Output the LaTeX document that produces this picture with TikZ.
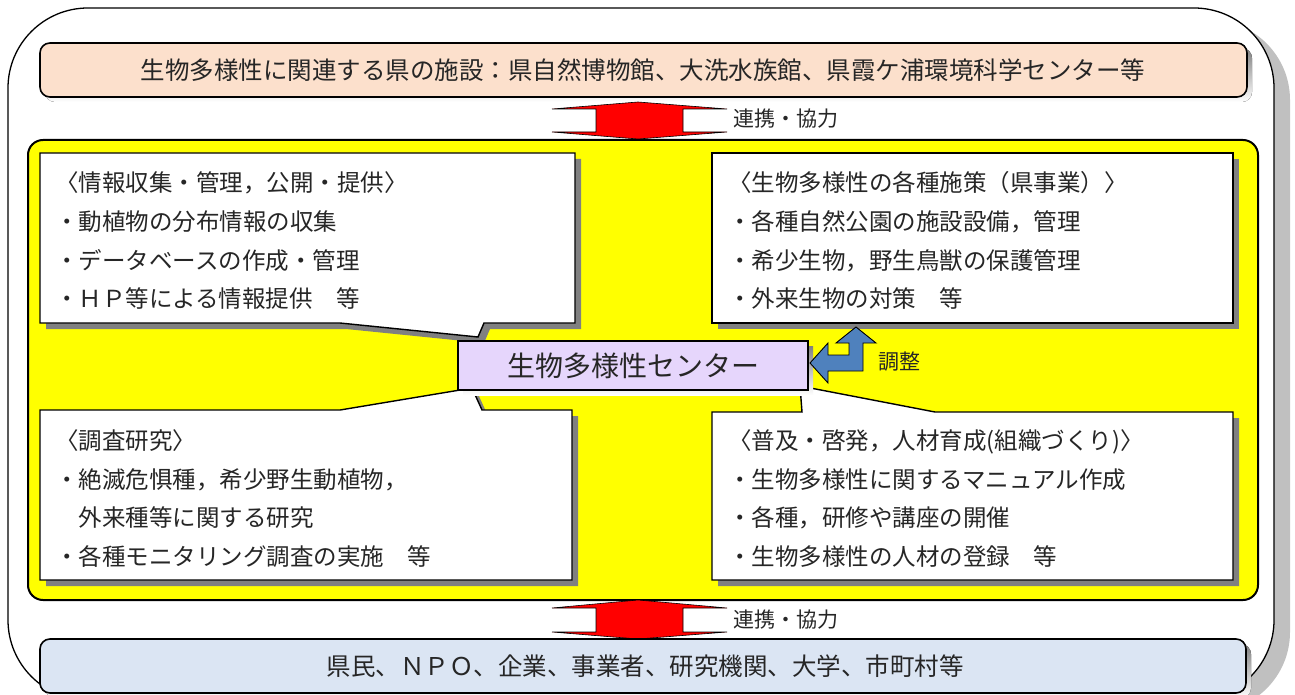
\documentclass[tikz,border=0pt]{standalone}
\usepackage{fontspec}
\setmainfont{Noto Sans CJK JP}
\definecolor{peach}{RGB}{252,224,204}
\definecolor{paleblue}{RGB}{219,229,243}
\definecolor{lavender}{RGB}{230,214,252}
\definecolor{steel}{RGB}{79,129,189}
\definecolor{shade}{RGB}{128,128,128}
\definecolor{lightshade}{RGB}{192,192,192}
\definecolor{pureyellow}{RGB}{255,255,0}
\begin{document}
\begin{tikzpicture}[x=1pt,y=-1pt,
  txt/.style={inner sep=0pt,anchor=base west,text=black!85,font=\fontsize{23.5}{28}\selectfont},
  bigtxt/.style={inner sep=0pt,text=black!85,font=\fontsize{24.5}{28}\selectfont},
  lbl/.style={inner sep=0pt,anchor=west,text=black!85,font=\fontsize{21}{24}\selectfont},
  callout/.style={fill=white,draw=black,line width=1.4pt,line join=miter},
  calloutshadow/.style={fill=shade,draw=none},
  redarrow/.style={fill=red,draw=black,line width=0.6pt},
  bluearrow/.style={fill=steel,draw=black,line width=0.9pt,line join=miter}]
\useasboundingbox (0,0) rectangle (1295,695);

% outer frame
\fill[lightshade,rounded corners=80] (23,20) rectangle (1290,712);
\draw[fill=white,line width=1.3pt,rounded corners=80] (8,8) rectangle (1274,700);

% top facility box
\fill[shade,rounded corners=10] (45,48) rectangle (1252,102);
\draw[fill=peach,line width=1.6pt,rounded corners=10] (40,43) rectangle (1247,97);
\node[bigtxt] (facility) at (643,70) {生物多様性に関連する県の施設：県自然博物館、大洗水族館、県霞ケ浦環境科学センター等};

% yellow area
\draw[fill=pureyellow,line width=2pt,rounded corners=15] (28,140) rectangle (1258,600);

% top red double arrow
\draw[redarrow] (638,102) -- (727,109) -- (683,109) -- (683,132) -- (727,132) -- (638,139)
  -- (552,132) -- (596,132) -- (596,109) -- (552,109) -- cycle;
\node[lbl] (coopA) at (733,119) {連携・協力};

% TL callout
\begin{scope}[shift={(6,6)}]
\fill[calloutshadow] (40,153) -- (575,153) -- (575,323) -- (484,323) -- (478,337) -- (340,323) -- (40,323) -- cycle;
\end{scope}
\draw[callout] (40,153) -- (575,153) -- (575,323) -- (484,323) -- (478,337) -- (340,323) -- (40,323) -- cycle;
\node[txt] (tl1) at (55,192) {〈情報収集・管理，公開・提供〉};
\node[txt] (tl2) at (55,230) {・動植物の分布情報の収集};
\node[txt] (tl3) at (55,269) {・データベースの作成・管理};
\node[txt] (tl4) at (55,307) {・ＨＰ等による情報提供　等};

% TR callout
\fill[calloutshadow] (718,159) rectangle (1239,329);
\draw[callout] (712,153) rectangle (1233,323);
\node[txt] (tr1) at (728,192) {〈生物多様性の各種施策（県事業）〉};
\node[txt] (tr2) at (728,230) {・各種自然公園の施設設備，管理};
\node[txt] (tr3) at (728,269) {・希少生物，野生鳥獣の保護管理};
\node[txt] (tr4) at (728,307) {・外来生物の対策　等};

% BL callout
\begin{scope}[shift={(6,6)}]
\fill[calloutshadow] (40,410) -- (340,410) -- (472,388) -- (482,410) -- (572,410) -- (572,580) -- (40,580) -- cycle;
\end{scope}
\draw[callout] (40,410) -- (340,410) -- (472,388) -- (482,410) -- (572,410) -- (572,580) -- (40,580) -- cycle;
\node[txt] (bl1) at (55,449) {〈調査研究〉};
\node[txt] (bl2) at (55,488) {・絶滅危惧種，希少野生動植物，};
\node[txt] (bl3) at (55,526) {　外来種等に関する研究};
\node[txt] (bl4) at (55,565) {・各種モニタリング調査の実施　等};

% BR callout
\begin{scope}[shift={(6,6)}]
\fill[calloutshadow] (712,412) -- (802,412) -- (800,386) -- (935,412) -- (1233,412) -- (1233,580) -- (712,580) -- cycle;
\end{scope}
\draw[callout] (712,412) -- (802,412) -- (800,386) -- (935,412) -- (1233,412) -- (1233,580) -- (712,580) -- cycle;
\node[txt] (br1) at (728,449) {〈普及・啓発，人材育成(組織づくり)〉};
\node[txt] (br2) at (728,488) {・生物多様性に関するマニュアル作成};
\node[txt] (br3) at (728,526) {・各種，研修や講座の開催};
\node[txt] (br4) at (728,565) {・生物多様性の人材の登録　等};

% center box
\fill[shade] (463,346) rectangle (813,395);
\draw[fill=lavender,line width=1.4pt] (458,341) rectangle (808,390);
\node[inner sep=0pt,text=black!85,font=\fontsize{28}{32}\selectfont] (center) at (633,366) {生物多様性センター};

% blue bent arrow
\draw[bluearrow] (810,363) -- (828,343) -- (828,355) -- (849,355) -- (849,343) -- (836,343) -- (856,327)
  -- (876,343) -- (863,343) -- (863,371) -- (828,371) -- (828,383) -- cycle;
\node[lbl] (adjust) at (878,362) {調整};

% bottom red double arrow
\draw[redarrow] (638,600) -- (727,608) -- (683,608) -- (683,632) -- (727,632) -- (638,639)
  -- (552,632) -- (596,632) -- (596,608) -- (552,608) -- cycle;
\node[lbl] (coopB) at (733,620) {連携・協力};

% bottom citizens box
\fill[shade,rounded corners=10] (45,644) rectangle (1251,698);
\draw[fill=paleblue,line width=1.6pt,rounded corners=10] (40,639) rectangle (1246,693);
\node[bigtxt] (citizens) at (645,666) {県民、ＮＰＯ、企業、事業者、研究機関、大学、市町村等};
\end{tikzpicture}
\end{document}
